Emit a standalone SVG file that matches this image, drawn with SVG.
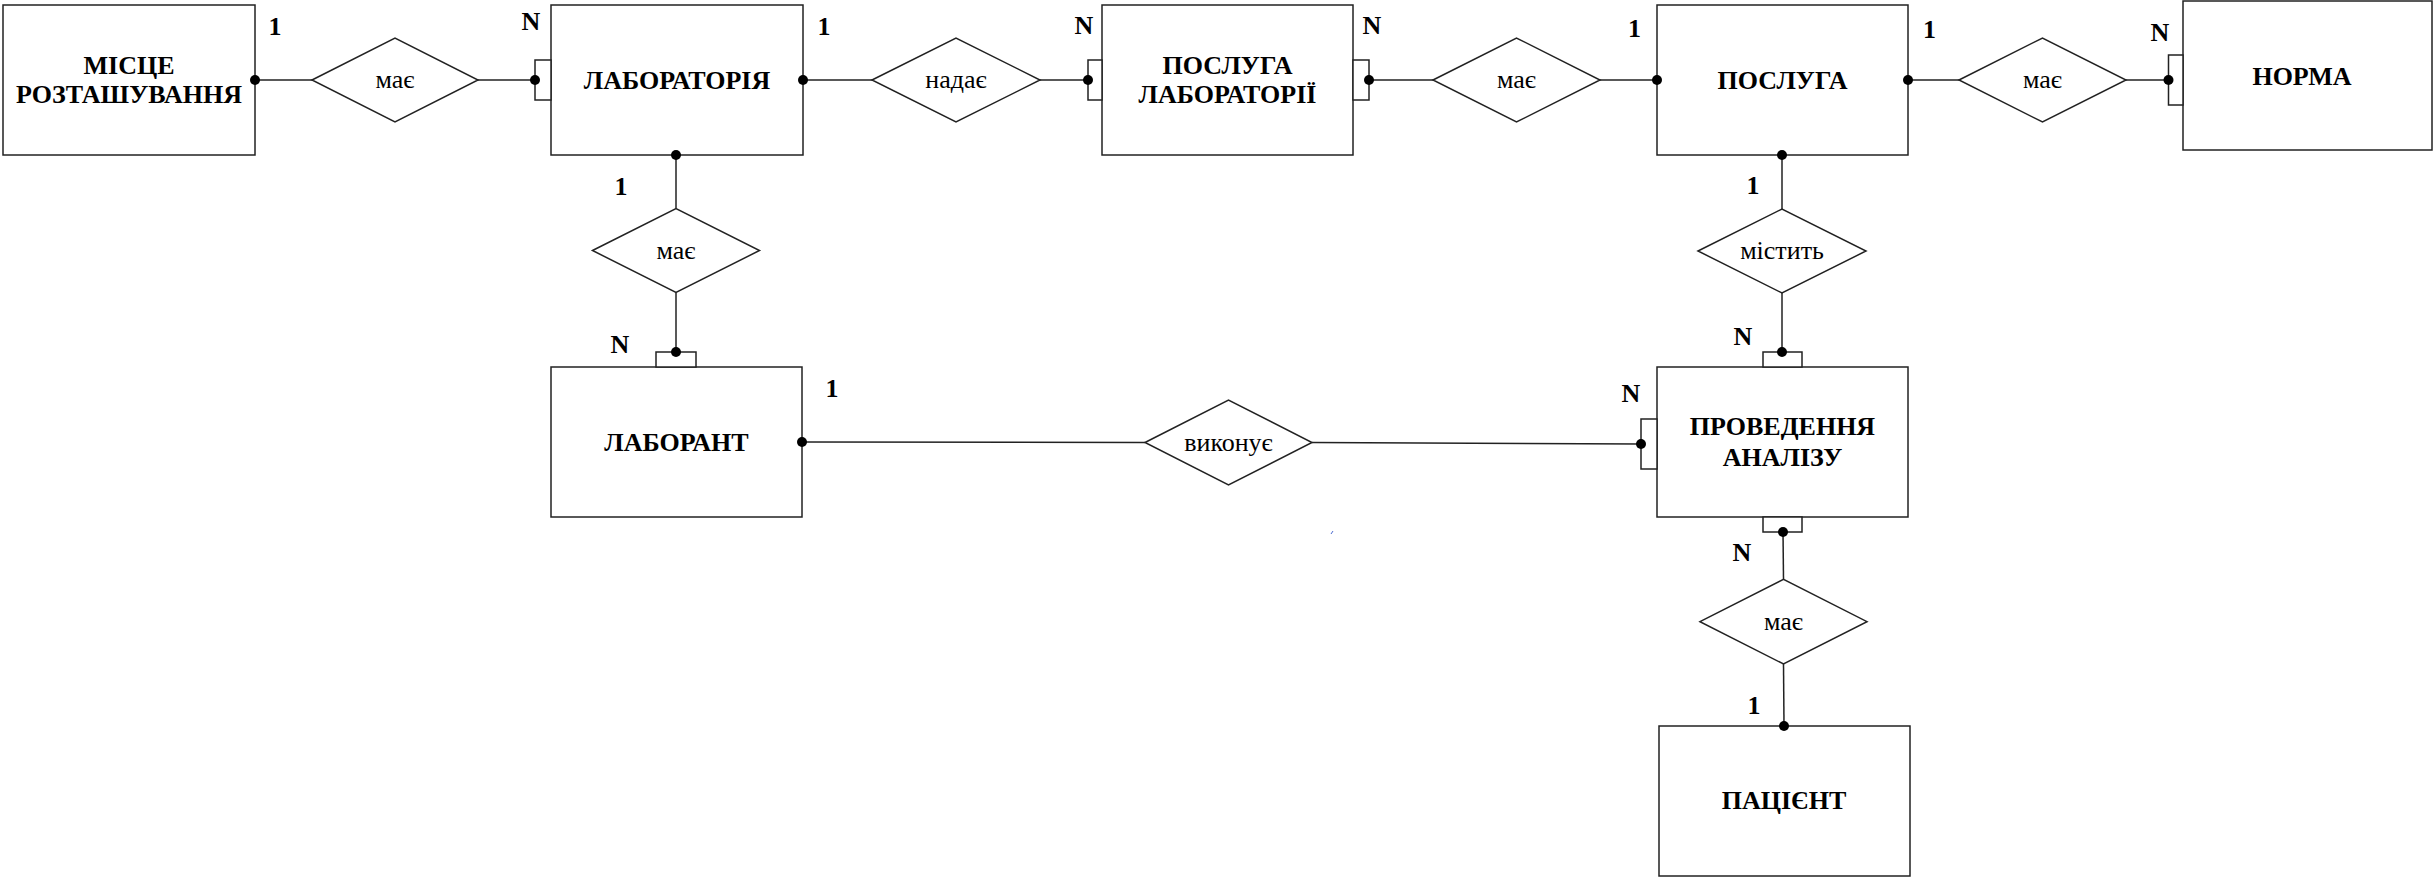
<svg xmlns="http://www.w3.org/2000/svg" width="2433" height="879" viewBox="0 0 2433 879">
<style>
.ent{fill:#fff;stroke:#222;stroke-width:1.5}
.rel{fill:#fff;stroke:#222;stroke-width:1.5}
.mk{fill:#fff;stroke:#222;stroke-width:1.5}
.ln{stroke:#222;stroke-width:1.5;fill:none}
.dot{fill:#000}
.et{font-family:"Liberation Serif","Times New Roman",serif;font-weight:bold;font-size:26px;text-anchor:middle;fill:#000}
.rt{font-family:"Liberation Serif","Times New Roman",serif;font-size:26px;text-anchor:middle;fill:#000}
.ct{font-family:"Liberation Serif","Times New Roman",serif;font-weight:bold;font-size:26px;text-anchor:middle;fill:#000}
</style>
<rect width="2433" height="879" fill="#fff"/>
<g id="e-mistse"><rect class="ent" x="3" y="5" width="252" height="150"/><text class="et" x="129" y="74">МІСЦЕ</text><text class="et" x="129" y="103">РОЗТАШУВАННЯ</text></g>
<g id="e-lab"><rect class="ent" x="551" y="5" width="252" height="150"/><text class="et" x="677" y="89">ЛАБОРАТОРІЯ</text></g>
<g id="e-posluga-lab"><rect class="ent" x="1102" y="5" width="251" height="150"/><text class="et" x="1227.5" y="74">ПОСЛУГА</text><text class="et" x="1227.5" y="103">ЛАБОРАТОРІЇ</text></g>
<g id="e-posluga"><rect class="ent" x="1657" y="5" width="251" height="150"/><text class="et" x="1782.5" y="89">ПОСЛУГА</text></g>
<g id="e-norma"><rect class="ent" x="2183" y="1" width="249" height="149"/><text class="et" x="2302" y="85">НОРМА</text></g>
<g id="e-laborant"><rect class="ent" x="551" y="367" width="251" height="150"/><text class="et" x="676.5" y="451">ЛАБОРАНТ</text></g>
<g id="e-provedennya"><rect class="ent" x="1657" y="367" width="251" height="150"/><text class="et" x="1782.5" y="435">ПРОВЕДЕННЯ</text><text class="et" x="1782.5" y="466">АНАЛІЗУ</text></g>
<g id="e-patsient"><rect class="ent" x="1659" y="726" width="251" height="150"/><text class="et" x="1784" y="809">ПАЦІЄНТ</text></g>
<g id="r1"><polygon class="rel" points="312,80 395,38 478,80 395,122"/><text class="rt" x="395" y="88">має</text></g>
<g id="r2"><polygon class="rel" points="872,80 956,38 1040,80 956,122"/><text class="rt" x="956" y="88">надає</text></g>
<g id="r3"><polygon class="rel" points="1433,80 1516.5,38 1600,80 1516.5,122"/><text class="rt" x="1516.5" y="88">має</text></g>
<g id="r4"><polygon class="rel" points="1959,80 2042.5,38 2126,80 2042.5,122"/><text class="rt" x="2042.5" y="88">має</text></g>
<g id="r5"><polygon class="rel" points="592.5,250.5 676,208.5 759.5,250.5 676,292.5"/><text class="rt" x="676" y="259">має</text></g>
<g id="r6"><polygon class="rel" points="1698,251 1782,209 1866,251 1782,293"/><text class="rt" x="1782" y="259">містить</text></g>
<g id="r7"><polygon class="rel" points="1145,442.5 1228.5,400 1312,442.5 1228.5,485"/><text class="rt" x="1228.5" y="451">виконує</text></g>
<g id="r8"><polygon class="rel" points="1700,621.7 1783.5,579.3 1867,621.7 1783.5,664"/><text class="rt" x="1783.5" y="630">має</text></g>
<g id="connectors">
<line class="ln" x1="255" y1="80" x2="312" y2="80"/>
<line class="ln" x1="478" y1="80" x2="535" y2="80"/>
<rect class="mk" x="535" y="60" width="16" height="40"/>
<line class="ln" x1="803" y1="80" x2="872" y2="80"/>
<line class="ln" x1="1040" y1="80" x2="1088" y2="80"/>
<rect class="mk" x="1088" y="60" width="14" height="40"/>
<rect class="mk" x="1353" y="60" width="16" height="40"/>
<line class="ln" x1="1369" y1="80" x2="1433" y2="80"/>
<line class="ln" x1="1600" y1="80" x2="1657" y2="80"/>
<line class="ln" x1="1908" y1="80" x2="1959" y2="80"/>
<line class="ln" x1="2126" y1="80" x2="2168.5" y2="80"/>
<rect class="mk" x="2168.5" y="55" width="14.5" height="50"/>
<line class="ln" x1="676" y1="155" x2="676" y2="208.5"/>
<line class="ln" x1="676" y1="292.5" x2="676" y2="352"/>
<rect class="mk" x="656" y="352" width="40" height="15"/>
<line class="ln" x1="802" y1="442" x2="1145" y2="442.5"/>
<line class="ln" x1="1312" y1="442.5" x2="1641" y2="444"/>
<rect class="mk" x="1641" y="419" width="16" height="50"/>
<line class="ln" x1="1782" y1="155" x2="1782" y2="209"/>
<line class="ln" x1="1782" y1="293" x2="1782" y2="352"/>
<rect class="mk" x="1763" y="352" width="39" height="15"/>
<rect class="mk" x="1763" y="517" width="39" height="15"/>
<line class="ln" x1="1783" y1="532" x2="1783.5" y2="579.3"/>
<line class="ln" x1="1783.5" y1="664" x2="1784" y2="726"/>
<circle class="dot" cx="255" cy="80" r="5"/>
<circle class="dot" cx="535" cy="80" r="5"/>
<circle class="dot" cx="803" cy="80" r="5"/>
<circle class="dot" cx="1088" cy="80" r="5"/>
<circle class="dot" cx="1369" cy="80" r="5"/>
<circle class="dot" cx="1657" cy="80" r="5"/>
<circle class="dot" cx="1908" cy="80" r="5"/>
<circle class="dot" cx="2168.5" cy="80" r="5"/>
<circle class="dot" cx="676" cy="155" r="5"/>
<circle class="dot" cx="676" cy="352" r="5"/>
<circle class="dot" cx="802" cy="442" r="5"/>
<circle class="dot" cx="1641" cy="444" r="5"/>
<circle class="dot" cx="1782" cy="155" r="5"/>
<circle class="dot" cx="1782" cy="352" r="5"/>
<circle class="dot" cx="1783" cy="532" r="5"/>
<circle class="dot" cx="1784" cy="726" r="5"/>
<line x1="1331" y1="534" x2="1333" y2="531" stroke="#4a6ad0" stroke-width="1"/>
</g>
<g id="cardinalities">
<text class="ct" x="275" y="35">1</text>
<text class="ct" x="531" y="30">N</text>
<text class="ct" x="824" y="35">1</text>
<text class="ct" x="1084" y="34">N</text>
<text class="ct" x="1372" y="34">N</text>
<text class="ct" x="1634.5" y="37">1</text>
<text class="ct" x="1929.5" y="38">1</text>
<text class="ct" x="2160" y="41">N</text>
<text class="ct" x="621" y="195">1</text>
<text class="ct" x="620" y="353">N</text>
<text class="ct" x="832" y="397">1</text>
<text class="ct" x="1631" y="402">N</text>
<text class="ct" x="1753" y="194">1</text>
<text class="ct" x="1743" y="345">N</text>
<text class="ct" x="1742" y="561">N</text>
<text class="ct" x="1754" y="714">1</text>
</g>
</svg>
